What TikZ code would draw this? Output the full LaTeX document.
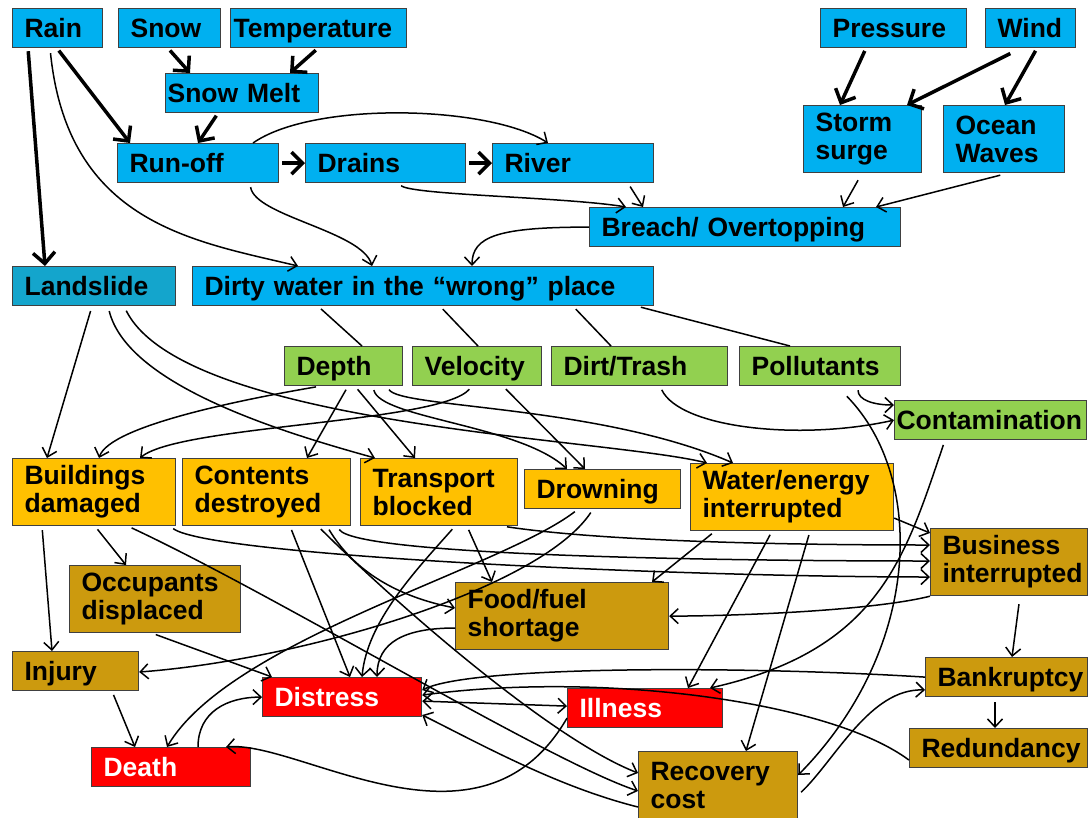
\documentclass[tikz,border=0pt]{standalone}
\usepackage{fontspec}
\setmainfont{Liberation Sans}
\usepackage{xcolor}
\usepackage{tikz}
\usetikzlibrary{arrows.meta}

\definecolor{waterblue}{HTML}{00B0F0}
\definecolor{slideblue}{HTML}{14A5CC}
\definecolor{propgreen}{HTML}{92D050}
\definecolor{impactamber}{HTML}{FFC000}
\definecolor{lossgold}{HTML}{CC9A0E}
\definecolor{harmred}{HTML}{FF0000}
\definecolor{edge}{HTML}{404040}

\tikzset{
	box/.style={draw=edge, line width=1.2pt, anchor=north west, inner xsep=12pt, inner ysep=0pt,
		align=left, font=\bfseries\fontsize{26.5}{28}\selectfont},
	one/.style={box, minimum height=39pt, text height=18pt, text depth=0pt},
	two/.style={box, minimum height=67pt},
	hazard/.style={fill=waterblue},
	slip/.style={fill=slideblue},
	prop/.style={fill=propgreen},
	impact/.style={fill=impactamber},
	loss/.style={fill=lossgold},
	harm/.style={fill=harmred, text=white},
	>={Straight Barb[length=8pt,width=15pt]},
	flow/.style={line width=3.5pt, -{Straight Barb[length=11pt,width=22pt]}, shorten <=3pt},
	link/.style={line width=1.5pt, ->},
	plain/.style={line width=1.5pt, shorten <=4pt}
}

\begin{document}
\begin{tikzpicture}[x=1pt, y=-1pt]

\useasboundingbox (0,0) rectangle (1089,817);
\fill[white] (0,0) rectangle (1089,817);

% sources
\node[one, hazard, text width=66pt] (rain) at (12,8) {Rain};
\node[one, hazard, text width=78pt] (snow) at (118,8) {Snow};
\node[one, hazard, inner xsep=3pt, text width=170pt] (temp) at (230,8) {Temperature};
\node[one, hazard, text width=122pt] (press) at (820,8) {Pressure};
\node[one, hazard, text width=66pt] (wind) at (985,8) {Wind};
\node[one, hazard, inner xsep=2pt, text width=149pt] (melt) at (165,73) {Snow Melt};
\node[two, hazard, text width=94pt] (surge) at (803,105) {Storm\\surge};
\node[two, hazard, text width=97pt] (waves) at (943,105) {Ocean\\Waves};
\node[one, hazard, text width=137pt] (runoff) at (117,143) {Run-off};
\node[one, hazard, text width=136pt] (drains) at (305,143) {Drains};
\node[one, hazard, text width=137pt] (river) at (492,143) {River};
\node[one, hazard, text width=287pt] (breach) at (589,207) {Breach/ Overtopping};
\node[one, slip, text width=139pt] (slide) at (12,266) {Landslide};
\node[one, hazard, text width=437pt] (dirty) at (192,266) {Dirty water in the “wrong” place};

% properties of the water
\node[one, prop, text width=94pt] (depth) at (284,346) {Depth};
\node[one, prop, text width=105pt] (veloc) at (412,346) {Velocity};
\node[one, prop, text width=152pt] (dirt) at (551,346) {Dirt/Trash};
\node[one, prop, text width=137pt] (pollut) at (739,346) {Pollutants};
\node[one, prop, inner xsep=2pt, text width=188pt] (contam) at (894,400) {Contamination};

% direct impacts
\node[two, impact, text width=139pt] (build) at (12,458) {Buildings\\damaged};
\node[two, impact, text width=144pt] (content) at (182,458) {Contents\\destroyed};
\node[two, impact, text width=133pt] (trans) at (360,458) {Transport\\blocked};
\node[one, impact, text width=132pt] (drown) at (524,469) {Drowning};
\node[two, impact, text width=179pt] (water) at (690,463) {Water/energy\\interrupted};

% knock-on losses
\node[two, loss, text width=133pt] (busin) at (930,528) {Business\\interrupted};
\node[two, loss, text width=147pt] (occup) at (69,565) {Occupants\\displaced};
\node[two, loss, text width=189pt] (food) at (455,582) {Food/fuel\\shortage};
\node[one, loss, text width=102pt] (injury) at (12,651) {Injury};
\node[one, loss, text width=138pt] (bank) at (925,657) {Bankruptcy};
\node[one, harm, text width=135pt] (distress) at (262,677) {Distress};
\node[one, harm, text width=131pt] (illness) at (567,688) {Illness};
\node[one, loss, text width=154pt] (redund) at (909,728) {Redundancy};
\node[one, harm, text width=135pt] (death) at (91,747) {Death};
\node[two, loss, text width=135pt] (recov) at (638,751) {Recovery\\cost};

% main drivers
\draw[flow] ([xshift=16pt]rain.south west) -- ([xshift=33pt]slide.north west);
\draw[flow] ([xshift=45pt]rain.south west) -- ([xshift=13pt]runoff.north west);
\draw[flow] ([xshift=50pt]snow.south west) -- ([xshift=25pt]melt.north west);
\draw[flow] ([xshift=88pt]temp.south west) -- ([xshift=125pt]melt.north west);
\draw[flow] ([xshift=53pt]melt.south west) -- ([xshift=81pt]runoff.north west);
\draw[flow] (runoff.east) -- (drains.west);
\draw[flow] (drains.east) -- (river.west);
\draw[flow] ([xshift=46pt]press.south west) -- ([xshift=37pt]surge.north west);
\draw[flow] ([xshift=28pt,yshift=-4pt]wind.south west) -- ([xshift=104pt]surge.north west);
\draw[flow] ([xshift=52pt]wind.south west) -- ([xshift=62pt]waves.north west);

% water getting to the wrong place
\draw[link, shorten <=5pt] ([xshift=38pt]rain.south west) .. controls +(18,175) and +(-105,-25) .. ([xshift=106pt]dirty.north west);
\draw[link, shorten <=4pt] ([xshift=133pt]runoff.south west) .. controls +(5,33) and +(-10,-35) .. ([xshift=180pt]dirty.north west);
\draw[link] ([xshift=136pt]runoff.north west) .. controls +(60,-42) and +(-60,-38) .. ([xshift=56pt]river.north west);
\draw[link, shorten <=4pt] ([xshift=93pt]drains.south west) .. controls +(15,12) and +(-60,-10) .. ([xshift=37pt]breach.north west);
\draw[link, shorten <=4pt] ([xshift=136pt]river.south west) -- ([xshift=54pt]breach.north west);
\draw[link, shorten <=8pt] ([xshift=59pt]surge.south west) -- ([xshift=254pt]breach.north west);
\draw[link, shorten <=8pt] ([xshift=65pt]waves.south west) -- ([xshift=287pt]breach.north west);
\draw[link] (breach.west) .. controls +(-90,0) and +(0,-30) .. ([xshift=280pt]dirty.north west);

\draw[plain] ([xshift=126pt]dirty.south west) -- ([xshift=78pt]depth.north west);
\draw[plain] ([xshift=248pt]dirty.south west) -- ([xshift=66pt]veloc.north west);
\draw[plain] ([xshift=381pt]dirty.south west) -- ([xshift=60pt]dirt.north west);
\draw[plain] ([xshift=445pt]dirty.south west) -- ([xshift=51pt]pollut.north west);

% landslide
\draw[link, shorten <=5pt] ([xshift=80pt]slide.south west) -- ([xshift=35pt]build.north west);
\draw[link, shorten <=5pt] ([xshift=96pt]slide.south west) .. controls +(20,80) and +(-90,-25) .. ([xshift=15pt]trans.north west);
\draw[link, shorten <=5pt] ([xshift=112pt]slide.south west) .. controls +(60,120) and +(-100,-25) .. ([xshift=17pt]water.north west);

% depth, velocity, dirt, pollutants
\draw[link, shorten <=4pt] ([xshift=36pt]depth.south west) .. controls +(-70,12) and +(11,-33) .. ([xshift=87pt]build.north west);
\draw[link, shorten <=4pt] ([xshift=64pt]depth.south west) -- ([xshift=125pt]content.north west);
\draw[link, shorten <=4pt] ([xshift=71pt]depth.south west) -- ([xshift=55pt]trans.north west);
\draw[link, shorten <=4pt] ([xshift=89pt]depth.south west) .. controls +(7,32) and +(-47,-44) .. ([xshift=43pt]drown.north west);
\draw[link, shorten <=4pt] ([xshift=103pt]depth.south west) .. controls +(13,22) and +(-133,-58) .. ([xshift=43pt]water.north west);
\draw[link, shorten <=4pt] ([xshift=60pt]veloc.south west) .. controls +(-32,37) and +(40,-33) .. ([xshift=128pt]build.north west);
\draw[link, shorten <=4pt] ([xshift=91pt]veloc.south west) -- ([xshift=61pt]drown.north west);
\draw[link, shorten <=4pt] ([xshift=109pt]dirt.south west) .. controls +(20,42) and +(-94,21) .. (contam.west);
\draw[link, shorten <=4pt] ([xshift=119pt]pollut.south west) .. controls +(0,14) and +(-20,0) .. ([yshift=-5pt]contam.north west);
\draw[link, shorten <=14pt] ([xshift=98pt]pollut.south west) .. controls +(90,92) and +(123,-125) .. ([yshift=-24pt]recov.north east);
\draw[link, shorten <=5pt] ([xshift=51pt]contam.south west) .. controls +(-40,117) and +(170,-38) .. ([xshift=143pt]illness.north west);

% buildings and contents
\draw[link, shorten <=4pt] ([xshift=30pt]build.south west) -- ([xshift=40pt]injury.north west);
\draw[link, shorten <=4pt] ([xshift=83pt]build.south west) -- ([xshift=57pt]occup.north west);
\draw[link, shorten <=4pt] ([xshift=116pt]build.south west) .. controls +(150,70) and +(-90,-30) .. ([yshift=-40pt]recov.north west);
\draw[link, shorten <=4pt] ([xshift=158pt]build.south west) .. controls +(40,30) and +(-250,0) .. ([yshift=-49pt]busin.north west);
\draw[link, shorten <=4pt] ([xshift=108pt]content.south west) -- ([xshift=88pt]distress.north west);
\draw[link, shorten <=4pt] ([xshift=136pt]content.south west) .. controls +(70,70) and +(-90,-35) .. ([yshift=-22pt]recov.north west);
\draw[link, shorten <=4pt] ([xshift=145pt]content.south west) .. controls +(30,50) and +(-50,-10) .. ([yshift=-26pt]food.north west);
\draw[link, shorten <=4pt] ([xshift=155pt]content.south west) .. controls +(20,30) and +(-200,0) .. ([yshift=-33pt]busin.north west);

% transport, drowning, water/energy
\draw[link, shorten <=4pt] ([xshift=95pt]trans.south west) .. controls +(-40,45) and +(5,-55) .. ([xshift=100pt]distress.north west);
\draw[link, shorten <=4pt] ([xshift=107pt]trans.south west) -- ([xshift=37pt]food.north west);
\draw[link, shorten <=4pt] ([xshift=143pt]trans.south west) .. controls +(100,15) and +(-150,0) .. ([yshift=-17pt]busin.north west);
\draw[link, shorten <=4pt] ([xshift=54pt]drown.south west) .. controls +(-78,60) and +(63,-107) .. ([xshift=76pt]death.north west);
\draw[link, shorten <=4pt] ([xshift=69pt]drown.south west) .. controls +(-53,80) and +(162,-12) .. ([yshift=-21pt]injury.north east);
\draw[link, shorten <=4pt] ([xshift=25pt]water.south west) -- ([xshift=197pt]food.north west);
\draw[link, shorten <=4pt] ([xshift=82pt]water.south west) -- ([xshift=121pt]illness.north west);
\draw[link, shorten <=4pt] ([xshift=120pt]water.south west) -- ([xshift=108pt]recov.north west);
\draw[link] ([yshift=-21pt]water.east) -- ([yshift=-5pt]busin.north west);

% people and money
\draw[link, shorten <=4pt] ([xshift=83pt]occup.south west) -- ([xshift=10pt]distress.north west);
\draw[link, shorten <=4pt] ([xshift=100pt]injury.south west) -- ([xshift=44pt]death.north west);
\draw[link] ([yshift=-46pt]food.north west) .. controls +(-50,0) and +(0,-35) .. ([xshift=115pt]distress.north west);
\draw[link] ([xshift=107pt]death.north west) .. controls +(0,-35) and +(-35,0) .. (distress.west);
\draw[<->, line width=1.5pt] ([yshift=-4pt]distress.east) -- ([yshift=2pt]illness.west);
\draw[link] ([yshift=-10pt]illness.west) .. controls +(-87,150) and +(74,-7) .. ([xshift=135pt]death.north west);
\draw[link] ([yshift=-56pt]recov.north west) .. controls +(-80,-20) and +(60,30) .. ([yshift=-38pt]distress.north east);
\draw[link] (busin.south west) .. controls +(-60,15) and +(60,0) .. (food.east);
\draw[link, shorten <=8pt] ([xshift=90pt]busin.south west) -- ([xshift=87pt]bank.north west);
\draw[link, shorten <=5pt] ([xshift=70pt]bank.south west) -- ([xshift=86pt]redund.north west);
\draw[link] (bank.west) .. controls +(-175,-11) and +(49,-25) .. ([yshift=7pt]distress.east);
\draw[link] ([yshift=-12pt]redund.west) .. controls +(-79,-59) and +(179,-24) .. ([yshift=2pt]distress.east);
\draw[link, shorten <=4pt] ([yshift=-44pt]recov.north east) .. controls +(37,-35) and +(-55,-2) .. ([yshift=-33pt]bank.north west);

\end{tikzpicture}
\end{document}
